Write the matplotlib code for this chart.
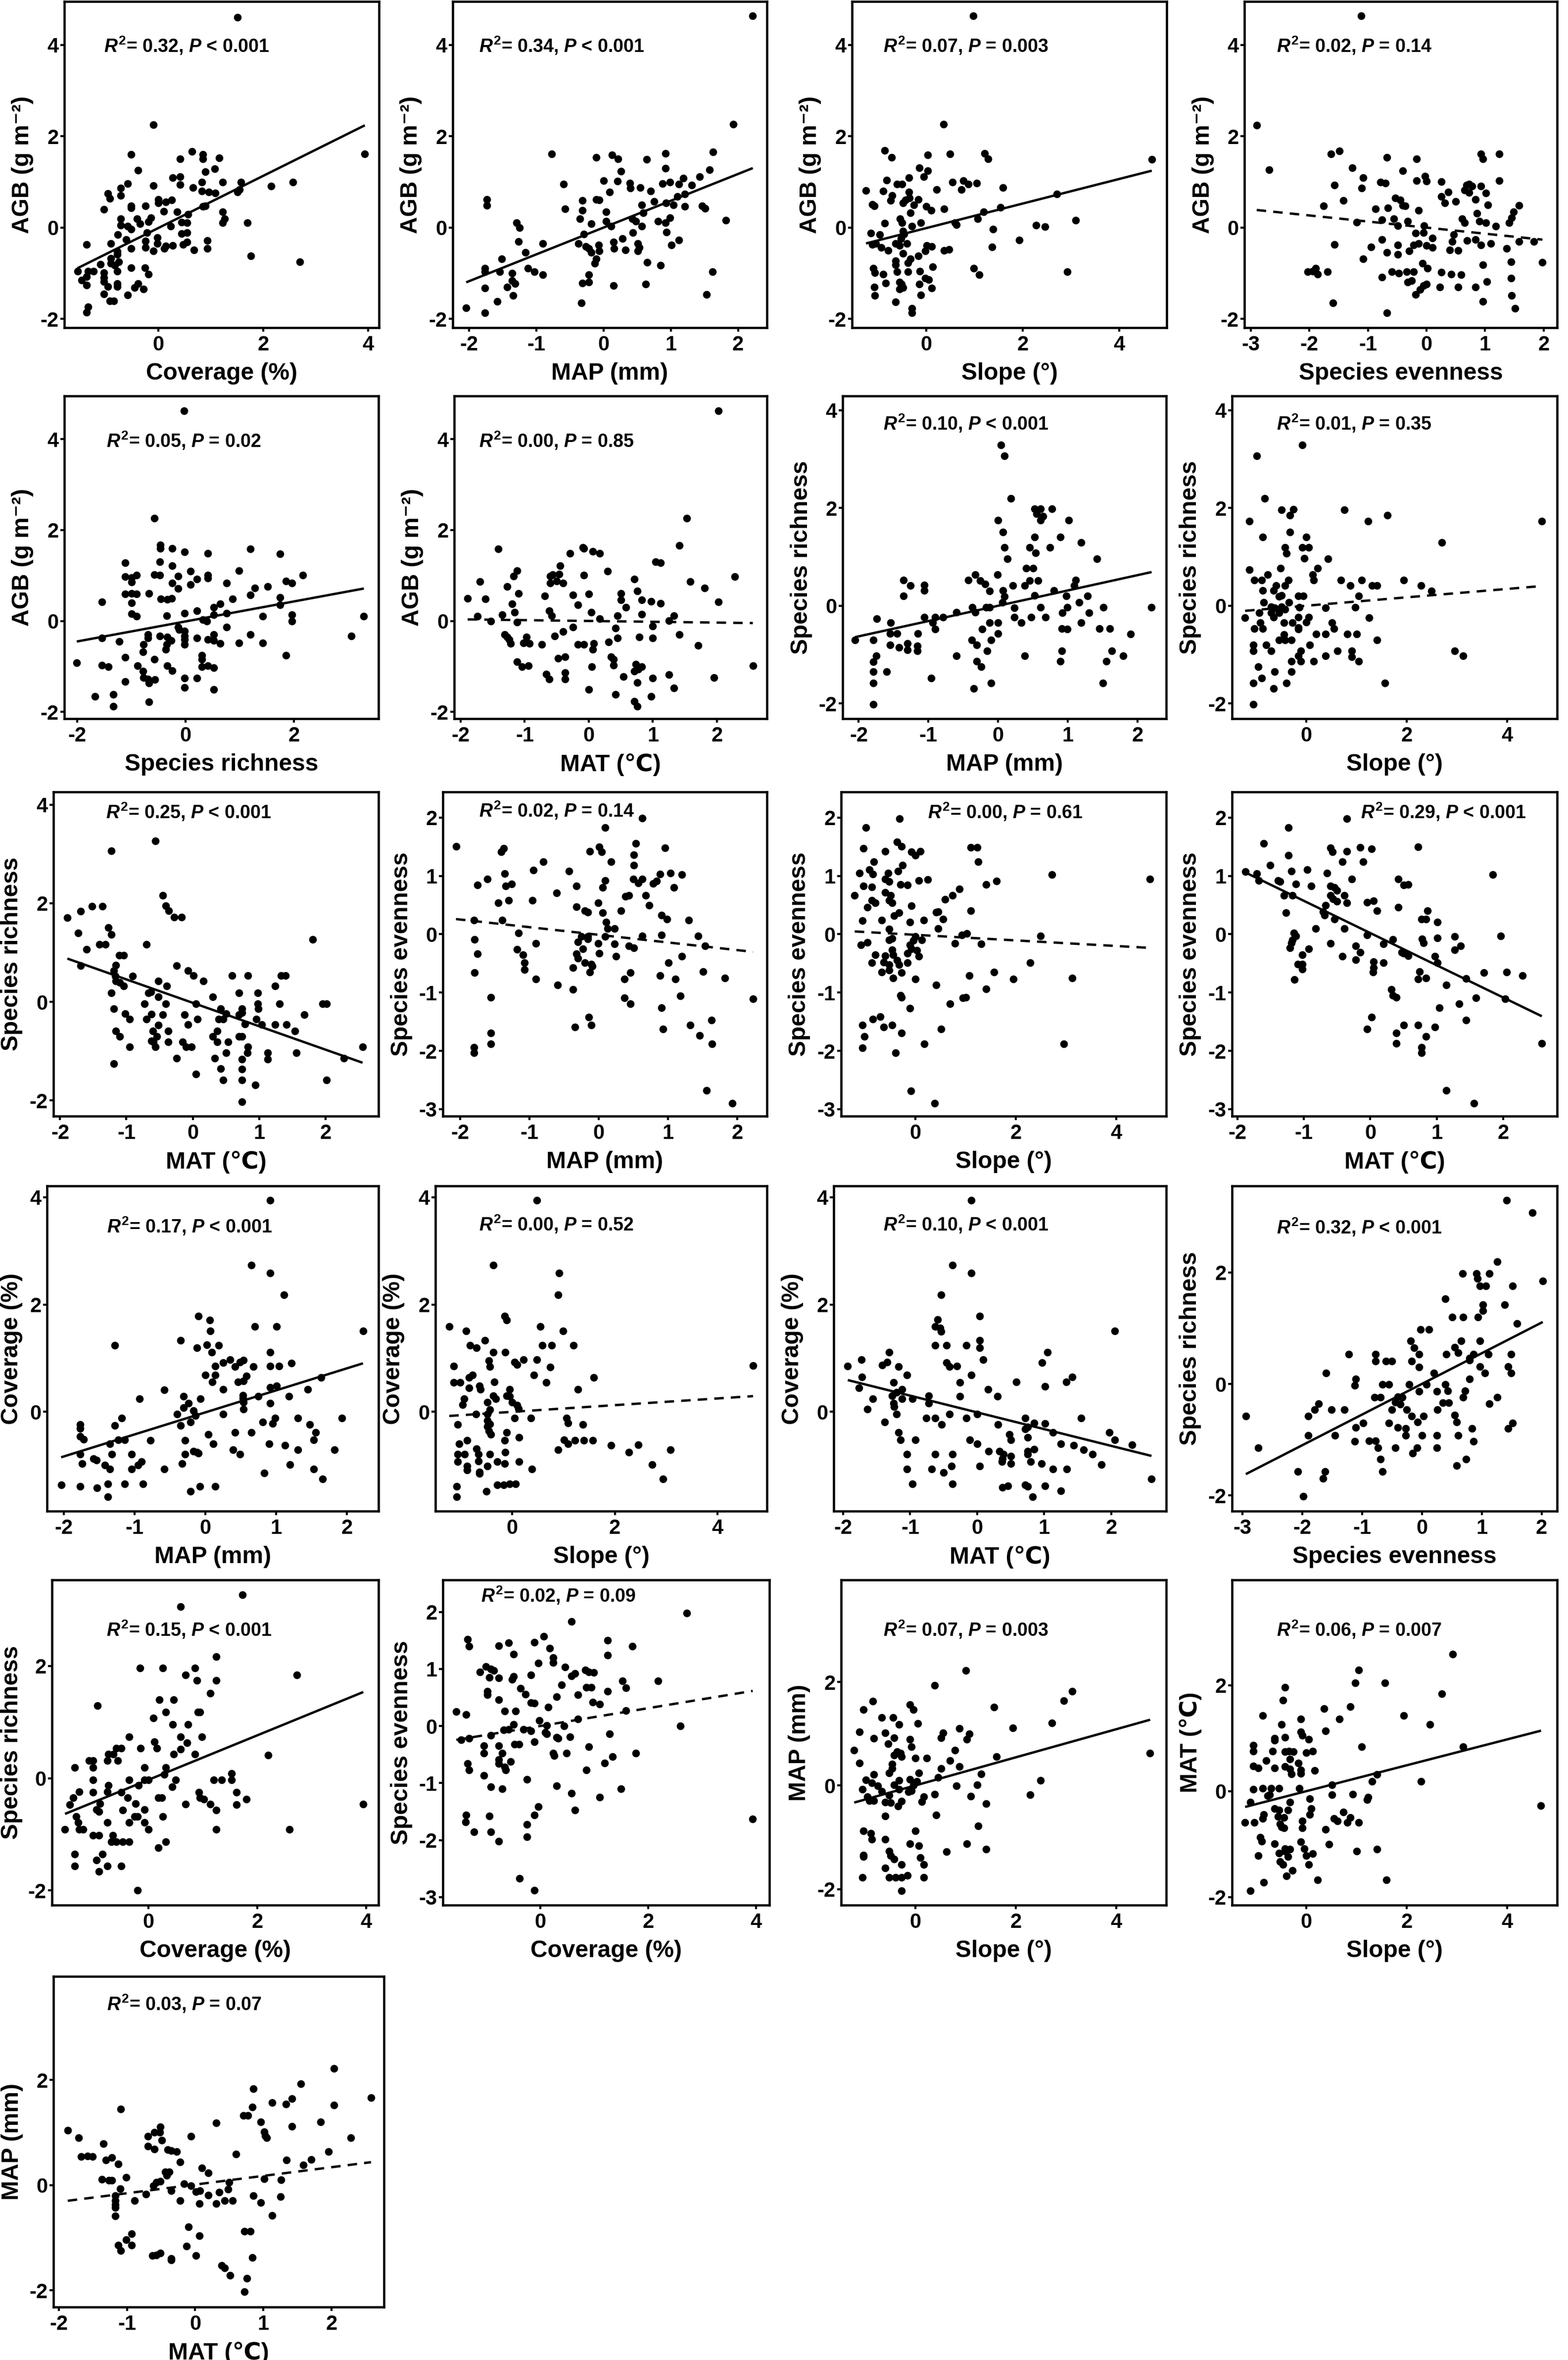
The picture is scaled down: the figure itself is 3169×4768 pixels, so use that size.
import matplotlib
matplotlib.use('Agg')
import matplotlib.pyplot as plt

plt.rcParams['axes.unicode_minus'] = False
plt.rcParams['mathtext.fontset'] = 'custom'
plt.rcParams['mathtext.rm'] = 'Liberation Sans:bold'
plt.rcParams['mathtext.it'] = 'Liberation Sans:italic:bold'
plt.rcParams['mathtext.bf'] = 'Liberation Sans:bold'

# ---------------- DATA (standardised values) ----------------
agb_vs_coverage = [(1.51,4.60),(-0.09,2.25),(-0.52,1.60),(0.64,1.67),(0.85,1.60),(0.85,1.50),(1.16,1.53),(0.42,1.50),(-0.38,1.26),(1.08,1.29),
 (0.90,1.22),(3.94,1.61),(-0.58,0.96),(-0.71,0.86),(-0.09,0.92),(0.28,1.09),(0.42,1.11),(0.42,0.94),(0.66,0.88),(0.83,0.99),
 (1.23,1.00),(1.58,1.00),(2.15,0.91),(2.57,0.99),(-0.96,0.75),(-0.92,0.64),(-0.71,0.70),(0.83,0.80),(0.96,0.78),(1.09,0.76),
 (1.51,0.78),(1.55,0.83),(-1.04,0.40),(-0.52,0.48),(-0.52,0.43),(-0.24,0.47),(0.00,0.62),(0.00,0.54),(0.14,0.56),(0.26,0.60),
 (0.11,0.36),(0.36,0.34),(0.90,0.48),(0.85,0.46),(1.23,0.35),(1.27,0.19),(1.23,0.11),(1.70,0.11),(-0.71,0.19),(-0.71,0.05),
 (-0.40,0.19),(-0.35,0.08),(-0.14,0.21),(-0.19,0.13),(-0.58,0.03),(-0.52,-0.03),(0.24,0.03),(0.45,0.12),(0.55,0.11),(0.57,0.29),
 (0.45,-0.13),(0.55,-0.11),(-0.21,-0.11),(-0.77,-0.15),(-0.61,-0.26),(-0.02,-0.22),(-0.02,-0.35),(-0.24,-0.29),(-0.24,-0.43),(-0.90,-0.35),
 (-1.37,-0.37),(-0.52,-0.46),(-0.09,-0.51),(0.14,-0.40),(0.28,-0.39),(0.12,-0.46),(0.47,-0.37),(0.55,-0.32),(0.68,-0.49),(0.94,-0.28),
 (0.94,-0.46),(-0.78,-0.52),(-0.78,-0.59),(1.77,-0.62),(2.70,-0.75),(-0.90,-0.67),(-0.75,-0.75),(-0.90,-0.78),(-1.10,-0.80),(-0.83,-0.83),
 (-0.52,-0.88),(-0.25,-0.88),(-1.54,-0.96),(-1.34,-0.96),(-1.23,-0.96),(-1.04,-0.99),(-0.78,-0.96),(-0.19,-1.02),(-1.46,-1.15),(-1.04,-1.10),
 (-1.37,-1.07),(-1.04,-1.18),(-0.78,-1.23),(-1.37,-1.26),(-0.96,-1.29),(-0.78,-1.29),(-0.38,-1.23),(-0.45,-1.31),(-0.28,-1.34),(-1.04,-1.45),
 (-0.58,-1.47),(-0.92,-1.61),(-0.85,-1.61),(-1.34,-1.74),(-1.37,-1.85)]

agb_vs_map = [(2.22,4.64),(1.93,2.26),(-0.77,1.61),(-0.11,1.54),(0.13,1.59),(0.22,1.51),(0.64,1.49),(0.92,1.62),(1.63,1.66),(1.58,1.27),
 (1.43,1.11),(0.26,1.23),(0.92,1.30),(-1.73,0.62),(-1.73,0.49),(-0.59,0.95),(0.00,1.03),(0.21,1.02),(0.39,0.97),(0.40,0.86),
 (0.55,0.88),(0.70,0.80),(0.09,0.78),(0.88,0.96),(0.99,1.00),(1.12,0.95),(1.19,1.08),(1.31,0.93),(1.21,0.73),(1.10,0.68),
 (-0.31,0.59),(-0.11,0.62),(-0.06,0.61),(-0.57,0.41),(-0.31,0.38),(0.04,0.35),(0.57,0.50),(0.75,0.57),(0.93,0.54),(1.04,0.50),
 (1.21,0.46),(1.47,0.48),(1.51,0.42),(-0.35,0.19),(-0.18,0.08),(0.04,0.14),(0.11,0.03),(0.43,0.19),(0.48,0.14),(0.57,0.03),
 (0.59,0.32),(0.81,0.14),(0.92,0.11),(0.99,0.22),(1.82,0.16),(-1.29,0.11),(-1.25,0.00),(-0.29,-0.14),(0.44,-0.11),(0.94,-0.10),
 (0.28,-0.24),(-1.26,-0.30),(-0.90,-0.35),(-0.37,-0.35),(-0.26,-0.41),(-0.07,-0.38),(0.15,-0.32),(0.51,-0.35),(0.53,-0.43),(1.01,-0.38),
 (1.12,-0.27),(-0.22,-0.46),(-0.18,-0.54),(-0.06,-0.51),(0.16,-0.46),(0.33,-0.49),(0.51,-0.51),(-1.16,-0.54),(-0.11,-0.68),(-0.13,-0.78),
 (-1.51,-0.68),(0.65,-0.76),(0.85,-0.82),(-1.76,-0.89),(-1.76,-0.97),(-1.54,-0.97),(-1.36,-1.00),(-1.12,-0.89),(-1.03,-0.97),(-0.90,-1.03),
 (-0.22,-1.03),(1.62,-0.97),(-1.36,-1.16),(-1.31,-1.23),(-0.31,-1.22),(-0.22,-1.19),(0.15,-1.27),(0.63,-1.24),(-1.43,-1.30),(-1.76,-1.32),
 (-1.34,-1.49),(1.53,-1.46),(-1.58,-1.62),(-0.33,-1.65),(-2.04,-1.76),(-1.76,-1.86)]

agb_vs_slope = [(0.97,4.64),(0.36,2.26),(-0.86,1.69),(-0.72,1.54),(0.03,1.59),(0.49,1.61),(1.21,1.62),(1.28,1.51),(4.67,1.49),(-0.15,1.31),
 (0.03,1.24),(-0.05,1.11),(-0.36,1.09),(-0.50,0.95),(-0.61,0.95),(-0.82,1.04),(0.54,1.00),(0.77,1.03),(0.87,0.95),(1.04,0.97),
 (0.73,0.83),(-1.25,0.81),(-0.89,0.80),(0.21,0.83),(1.59,0.88),(-0.36,0.78),(-0.71,0.70),(2.70,0.73),(-0.74,0.59),(-0.43,0.61),
 (-0.35,0.65),(-0.17,0.62),(-0.48,0.54),(-0.26,0.50),(-1.12,0.51),(-1.08,0.48),(0.00,0.46),(0.10,0.38),(0.37,0.41),(1.54,0.44),
 (1.19,0.35),(-0.33,0.32),(1.06,0.19),(-0.55,0.19),(-0.50,0.11),(-0.86,0.10),(-0.12,0.11),(0.59,0.11),(0.62,0.06),(-0.30,0.03),
 (3.09,0.16),(2.27,0.05),(2.46,0.02),(1.38,-0.03),(-1.15,-0.12),(-0.97,-0.15),(-0.48,-0.08),(-0.46,-0.14),(-0.53,-0.24),(1.93,-0.27),
 (-1.12,-0.37),(-1.05,-0.35),(-0.94,-0.43),(-0.79,-0.50),(-0.64,-0.35),(-0.56,-0.39),(-0.40,-0.35),(0.01,-0.39),(0.11,-0.41),(-0.02,-0.51),
 (0.37,-0.50),(0.47,-0.48),(1.36,-0.42),(-0.48,-0.57),(-0.33,-0.68),(-0.17,-0.62),(-0.64,-0.73),(-0.64,-0.81),(-0.38,-0.77),(0.13,-0.86),
 (-1.10,-0.89),(-1.07,-0.99),(-0.89,-1.02),(-0.61,-0.97),(-0.38,-0.97),(-0.14,-0.95),(0.98,-0.89),(1.09,-1.03),(2.92,-0.97),(-0.02,-1.11),
 (0.05,-1.14),(-0.84,-1.22),(-0.56,-1.19),(-0.51,-1.24),(-0.48,-1.31),(-0.15,-1.24),(0.11,-1.32),(-0.56,-1.35),(-1.08,-1.30),(-0.12,-1.47),
 (-1.07,-1.49),(-0.64,-1.63),(-0.30,-1.77),(-0.30,-1.86)]

agb_vs_evenness = [(-1.12,4.64),(-2.90,2.24),(-2.69,1.27),(-1.63,1.61),(-1.49,1.68),(-1.27,1.31),(-0.68,1.54),(-0.17,1.51),(0.93,1.61),(0.96,1.51),
 (1.24,1.61),(-0.41,1.24),(-1.08,1.09),(-0.03,1.12),(0.00,1.02),(-0.17,1.03),(-1.57,0.93),(-1.11,0.86),(-0.79,1.00),(-0.70,0.97),
 (0.25,1.01),(1.24,1.03),(0.37,0.78),(0.68,0.93),(0.73,0.95),(0.78,0.91),(0.93,0.91),(0.65,0.82),(0.73,0.77),(1.01,0.76),
 (0.25,0.68),(0.31,0.54),(0.50,0.57),(-0.53,0.65),(-0.45,0.61),(-0.41,0.49),(-0.36,0.48),(0.84,0.62),(1.05,0.50),(1.58,0.49),
 (-1.42,0.59),(-1.76,0.48),(-0.87,0.41),(-0.66,0.43),(-0.14,0.38),(0.86,0.31),(1.49,0.35),(1.45,0.21),(-1.19,0.12),(-0.76,0.17),
 (-0.56,0.19),(-0.49,0.04),(-0.32,0.14),(-0.04,0.04),(0.61,0.19),(0.65,0.11),(0.90,0.14),(1.01,0.11),(1.18,0.03),(1.41,0.11),
 (-0.19,-0.12),(-0.05,-0.11),(0.46,-0.15),(0.10,-0.23),(0.69,-0.28),(-0.76,-0.26),(0.44,-0.30),(0.84,-0.26),(-1.57,-0.37),(-0.95,-0.42),
 (-0.49,-0.38),(-0.22,-0.38),(-0.14,-0.35),(0.00,-0.39),(0.10,-0.43),(0.40,-0.49),(0.54,-0.50),(0.93,-0.38),(1.10,-0.35),(1.37,-0.46),
 (1.58,-0.30),(1.83,-0.30),(-0.68,-0.54),(-0.49,-0.59),(-0.30,-0.51),(-1.08,-0.68),(-0.07,-0.78),(0.02,-0.89),(0.96,-0.81),(1.44,-0.75),
 (1.98,-0.76),(-2.03,-0.97),(-1.94,-0.96),(-1.89,-0.89),(-1.86,-1.02),(-1.69,-0.97),(-0.59,-0.97),(-0.47,-1.00),(-0.34,-0.97),(-0.22,-0.97),
 (0.25,-0.98),(0.42,-1.02),(0.59,-1.03),(-0.76,-1.09),(-0.32,-1.19),(-0.25,-1.16),(1.03,-1.18),(1.44,-1.11),(-0.05,-1.27),(0.00,-1.24),
 (0.23,-1.30),(0.54,-1.30),(0.84,-1.30),(-0.19,-1.46),(-0.11,-1.36),(1.45,-1.49),(-1.60,-1.65),(0.96,-1.62),(1.51,-1.77),(-0.68,-1.86)]

agb_vs_richness = [(-0.03,4.62),(-0.58,2.26),(-0.47,1.67),(-0.47,1.60),(-0.25,1.60),(-0.02,1.52),(0.41,1.49),(1.19,1.59),(1.74,1.48),(-1.12,1.28),
 (-0.48,1.30),(-0.25,1.22),(0.09,1.09),(0.98,1.11),(-1.12,0.98),(-1.00,0.95),(-0.91,1.01),(-0.58,1.02),(-0.48,1.01),(-0.14,0.99),
 (0.21,0.92),(0.41,1.01),(0.41,0.94),(2.16,1.01),(-1.00,0.86),(0.76,0.83),(-0.25,0.83),(0.09,0.80),(-0.14,0.71),(1.51,0.76),
 (1.28,0.73),(1.85,0.88),(1.96,0.83),(-1.12,0.59),(-1.00,0.61),(-0.91,0.59),(-0.68,0.61),(1.19,0.57),(1.74,0.52),(-0.46,0.49),
 (-0.34,0.47),(-0.26,0.50),(0.87,0.49),(-1.55,0.42),(-1.00,0.40),(0.64,0.38),(1.74,0.35),(0.52,0.30),(-1.00,0.16),(-0.91,0.10),
 (-0.35,0.12),(-0.02,0.17),(0.21,0.22),(0.52,0.14),(0.76,0.17),(1.42,0.10),(1.96,0.14),(1.96,0.00),(3.29,0.10),(0.32,0.03),
 (0.39,-0.01),(-0.14,-0.14),(-0.12,-0.19),(-0.02,-0.22),(0.76,-0.14),(-0.70,-0.30),(-0.48,-0.33),(-0.34,-0.35),(-0.27,-0.43),(-0.02,-0.33),
 (-0.02,-0.41),(0.21,-0.38),(0.41,-0.41),(0.52,-0.30),(0.52,-0.43),(0.64,-0.49),(1.19,-0.30),(-1.55,-0.38),(-1.23,-0.45),(-0.70,-0.38),
 (-0.35,-0.52),(-0.02,-0.52),(0.98,-0.48),(1.42,-0.48),(3.06,-0.33),(-0.78,-0.52),(-0.37,-0.63),(-0.79,-0.68),(0.30,-0.76),(0.30,-0.84),
 (1.85,-0.76),(-1.12,-0.80),(-0.58,-0.84),(-2.01,-0.92),(-1.55,-0.97),(-1.43,-1.01),(-0.89,-0.99),(-0.34,-0.98),(-0.25,-1.09),(0.30,-1.01),
 (0.41,-0.99),(0.52,-1.03),(-0.79,-1.11),(-0.78,-1.25),(-0.70,-1.28),(-0.57,-1.29),(-0.02,-1.26),(0.21,-1.26),(-1.12,-1.33),(-0.68,-1.37),
 (-0.02,-1.46),(0.52,-1.51),(-1.67,-1.66),(-1.34,-1.62),(-1.34,-1.88),(-0.68,-1.78)]

agb_vs_mat = [(2.02,4.62),(1.53,2.26),(-1.41,1.59),(-0.09,1.62),(-0.08,1.60),(0.06,1.53),(0.17,1.49),(-0.29,1.49),(1.41,1.66),(1.04,1.30),
 (1.12,1.28),(-0.45,1.22),(-1.12,1.11),(0.29,1.10),(-1.17,0.99),(-0.56,1.02),(-0.60,0.99),(-0.46,1.03),(-0.08,1.01),(2.28,0.97),
 (-1.70,0.87),(0.71,0.92),(1.58,0.87),(-0.60,0.83),(-0.50,0.88),(-0.40,0.83),(-1.27,0.76),(1.81,0.72),(0.76,0.66),(-1.10,0.61),
 (-0.69,0.55),(-0.25,0.57),(0.00,0.59),(0.50,0.61),(-1.89,0.50),(-1.61,0.49),(0.50,0.46),(0.83,0.46),(0.97,0.43),(1.12,0.39),
 (2.02,0.42),(-1.20,0.38),(-0.17,0.35),(-0.62,0.22),(0.04,0.19),(0.58,0.30),(-1.16,0.19),(-1.35,0.14),(-1.74,0.10),(-0.58,0.11),
 (0.45,0.12),(0.83,0.15),(1.33,0.12),(-1.53,0.00),(-1.12,-0.03),(0.17,0.05),(1.25,0.01),(1.00,-0.11),(-0.25,-0.14),(0.42,-0.16),
 (-0.40,-0.23),(1.41,-0.30),(-1.31,-0.30),(-1.27,-0.35),(-1.24,-0.41),(-1.22,-0.49),(-0.97,-0.35),(-0.93,-0.49),(-1.02,-0.48),(-0.73,-0.52),
 (-0.53,-0.33),(-0.17,-0.52),(-0.08,-0.52),(0.08,-0.49),(0.06,-0.63),(0.31,-0.46),(0.45,-0.38),(0.79,-0.35),(1.00,-0.38),(1.71,-0.54),
 (-0.37,-0.79),(-0.48,-0.82),(0.35,-0.79),(0.39,-0.84),(0.39,-0.97),(-1.12,-0.90),(-1.04,-1.01),(-0.94,-0.99),(0.05,-1.01),(0.73,-0.95),
 (0.83,-1.01),(0.77,-1.06),(0.71,-1.10),(2.56,-0.99),(-0.66,-1.17),(-0.62,-1.28),(-0.37,-1.14),(-0.37,-1.28),(0.54,-1.22),(0.76,-1.36),
 (1.00,-1.26),(1.25,-1.18),(1.95,-1.25),(0.00,-1.51),(1.33,-1.47),(0.42,-1.62),(0.97,-1.66),(0.71,-1.77),(0.76,-1.88)]

richness_vs_map = [(0.04,3.29),(0.09,3.07),(0.18,2.19),(0.52,1.98),(0.61,1.98),(0.77,1.98),(0.55,1.88),(0.64,1.83),(0.61,1.75),(0.00,1.75),
 (1.01,1.75),(0.07,1.51),(0.52,1.41),(0.89,1.41),(1.19,1.29),(0.09,1.19),(0.45,1.19),(0.74,1.19),(0.54,1.08),(0.13,0.96),
 (1.42,0.96),(0.40,0.77),(0.50,0.77),(-0.33,0.64),(-0.01,0.64),(-1.36,0.52),(-0.43,0.52),(-0.26,0.51),(0.45,0.51),(0.57,0.51),
 (1.11,0.52),(-1.26,0.41),(-1.06,0.42),(-0.19,0.44),(0.21,0.41),(0.38,0.41),(1.09,0.41),(-1.06,0.31),(-0.12,0.30),(0.07,0.31),
 (0.80,0.31),(-1.36,0.20),(0.52,0.21),(0.98,0.20),(1.28,0.20),(0.09,0.19),(0.06,0.07),(1.16,0.07),(-0.37,-0.03),(-0.17,-0.03),
 (-0.12,-0.03),(0.23,-0.04),(0.61,-0.03),(0.99,-0.03),(1.51,-0.03),(2.20,-0.03),(-0.60,-0.13),(-0.33,-0.13),(0.92,-0.14),(1.30,-0.14),
 (-1.06,-0.23),(-0.90,-0.23),(-0.79,-0.23),(-1.74,-0.27),(0.23,-0.23),(0.47,-0.23),(0.68,-0.23),(0.33,-0.35),(-0.12,-0.35),(0.00,-0.35),
 (1.19,-0.35),(-0.94,-0.35),(-1.54,-0.35),(-0.90,-0.48),(-0.23,-0.48),(0.91,-0.47),(0.99,-0.48),(1.45,-0.47),(1.60,-0.47),(-1.55,-0.57),
 (-1.45,-0.57),(-1.15,-0.57),(0.00,-0.57),(1.90,-0.58),(-2.05,-0.70),(-1.79,-0.70),(-0.10,-0.70),(-0.38,-0.70),(-1.55,-0.80),(-1.30,-0.77),
 (-1.42,-0.85),(-1.30,-0.90),(-1.16,-0.82),(-1.16,-0.92),(-0.31,-0.80),(-0.16,-0.92),(0.91,-0.92),(1.63,-0.92),(-1.75,-1.02),(-0.60,-1.02),
 (0.38,-1.02),(1.79,-1.02),(-1.79,-1.15),(-0.31,-1.14),(-0.24,-1.25),(0.89,-1.14),(1.55,-1.14),(-1.79,-1.35),(-1.60,-1.35),(-0.96,-1.48),
 (-1.79,-1.58),(-0.10,-1.58),(1.50,-1.58),(-0.35,-1.69),(-1.79,-2.02)]

richness_vs_slope = [(-0.07,3.29),(-0.98,3.07),(-0.82,2.19),(-0.49,1.96),(-0.25,1.97),(-0.32,1.85),(0.76,1.96),(1.62,1.85),(-1.13,1.73),(1.23,1.73),
 (4.69,1.73),(-0.32,1.51),(0.00,1.41),(-0.86,1.41),(2.70,1.29),(-0.42,1.19),(-0.07,1.19),(0.05,1.19),(-0.39,1.07),(-0.03,0.97),
 (0.44,0.96),(0.23,0.77),(-1.13,0.74),(-0.51,0.77),(0.13,0.64),(-0.76,0.64),(-1.03,0.52),(-0.88,0.52),(-0.35,0.52),(0.15,0.52),
 (0.69,0.52),(1.11,0.52),(1.94,0.52),(-0.59,0.41),(-0.42,0.41),(0.88,0.41),(1.31,0.41),(1.41,0.41),(2.29,0.41),(-0.86,0.31),
 (-0.64,0.31),(-0.49,0.21),(-0.15,0.20),(-0.05,0.20),(1.05,0.20),(2.49,0.30),(-0.54,0.19),(-0.84,0.07),(-0.34,0.07),(-0.69,-0.02),
 (-0.62,-0.04),(-0.49,-0.02),(-0.42,-0.07),(-0.13,-0.03),(0.39,-0.04),(0.98,-0.03),(-0.93,-0.14),(-0.69,-0.14),(-0.54,-0.14),(-0.64,-0.23),
 (-0.15,-0.23),(0.05,-0.23),(-1.21,-0.25),(1.25,-0.25),(-0.44,-0.35),(-0.27,-0.35),(-0.91,-0.35),(0.52,-0.35),(-0.15,-0.45),(0.00,-0.34),
 (-1.03,-0.47),(-0.86,-0.47),(-0.15,-0.48),(0.56,-0.47),(-0.44,-0.59),(-0.42,-0.70),(0.20,-0.58),(0.39,-0.58),(0.82,-0.58),(1.01,-0.58),
 (-0.29,-0.70),(-0.54,-0.70),(0.07,-0.80),(1.41,-0.70),(-1.05,-0.80),(-0.79,-0.80),(-1.05,-0.92),(-0.69,-0.92),(-0.10,-0.92),(0.62,-0.92),
 (0.91,-0.92),(2.95,-0.92),(3.12,-1.02),(-0.15,-1.02),(0.39,-1.02),(0.91,-1.04),(-0.29,-1.14),(-0.10,-1.14),(0.15,-1.14),(1.05,-1.14),
 (-0.95,-1.25),(-0.62,-1.35),(-0.29,-1.35),(-0.88,-1.48),(-1.05,-1.58),(-0.39,-1.58),(1.57,-1.58),(-0.64,-1.69),(-1.05,-2.02)]

richness_vs_mat = [(-0.56,3.27),(-1.23,3.06),(-0.45,2.16),(-1.52,1.94),(-1.36,1.94),(-0.41,1.95),(-0.36,1.85),(-1.69,1.84),(-1.89,1.71),(-0.28,1.72),
 (-0.17,1.72),(-1.27,1.51),(-1.23,1.37),(-1.73,1.40),(-1.41,1.17),(-1.32,1.17),(-0.70,1.17),(1.81,1.27),(-1.60,1.07),(-1.11,0.94),
 (-1.04,0.94),(-1.16,0.74),(-1.69,0.73),(-0.24,0.73),(-1.19,0.63),(-0.07,0.63),(0.01,0.53),(0.59,0.53),(0.83,0.53),(1.33,0.53),
 (1.40,0.53),(-1.17,0.52),(-0.91,0.52),(-1.16,0.42),(-1.10,0.39),(-0.52,0.42),(0.16,0.42),(-1.04,0.32),(-0.39,0.32),(1.24,0.32),
 (-0.63,0.20),(-1.23,0.18),(-0.67,0.18),(0.70,0.18),(0.98,0.18),(-0.52,0.10),(0.30,0.10),(-0.73,-0.04),(-0.41,-0.04),(0.05,-0.04),
 (0.98,-0.04),(1.31,-0.04),(1.96,-0.04),(2.02,-0.04),(-1.19,-0.14),(0.42,-0.14),(0.74,-0.14),(0.99,-0.14),(0.74,-0.22),(-1.02,-0.24),
 (-0.62,-0.25),(-0.45,-0.26),(-0.12,-0.26),(0.50,-0.24),(0.70,-0.26),(1.68,-0.26),(-0.95,-0.35),(-0.70,-0.35),(0.07,-0.35),(0.39,-0.35),
 (0.46,-0.35),(0.96,-0.35),(-0.07,-0.46),(0.79,-0.45),(1.04,-0.46),(1.24,-0.46),(1.41,-0.46),(-0.52,-0.47),(-0.60,-0.59),(-0.37,-0.59),
 (0.37,-0.59),(1.54,-0.59),(-1.16,-0.59),(-1.10,-0.70),(-0.54,-0.70),(0.30,-0.70),(0.70,-0.70),(0.74,-0.70),(-0.62,-0.79),(-0.59,-0.81),
 (-0.37,-0.81),(-0.15,-0.81),(0.37,-0.81),(0.53,-0.81),(-0.10,-0.91),(-0.02,-0.91),(-0.95,-0.91),(-0.56,-0.91),(0.83,-0.91),(2.56,-0.91),
 (0.82,-1.03),(0.50,-1.03),(1.13,-1.03),(1.56,-1.03),(1.13,-1.16),(-0.24,-1.14),(0.33,-1.14),(0.74,-1.16),(2.28,-1.14),(-1.19,-1.26),
 (0.42,-1.36),(0.74,-1.37),(0.05,-1.47),(0.46,-1.59),(0.74,-1.59),(2.02,-1.59),(0.94,-1.69),(0.74,-2.03)]

evenness_vs_map = [(0.63,1.99),(0.09,1.83),(-2.06,1.51),(-1.37,1.47),(-1.41,1.41),(0.01,1.50),(0.04,1.41),(-0.13,1.42),(0.54,1.56),(0.96,1.48),
 (0.51,1.36),(-0.80,1.24),(0.18,1.24),(0.51,1.18),(-0.94,1.10),(-0.43,1.08),(1.04,1.05),(1.20,1.02),(-1.36,1.04),(0.89,1.03),
 (-1.61,0.95),(0.50,0.95),(0.63,0.95),(0.09,0.92),(0.57,0.88),(0.84,0.91),(0.79,0.87),(-1.75,0.84),(-1.34,0.83),(-1.26,0.86),
 (-0.32,0.83),(0.06,0.80),(1.09,0.80),(-0.61,0.71),(0.44,0.67),(0.68,0.67),(0.39,0.65),(-0.96,0.58),(-1.30,0.58),(-1.45,0.54),
 (-0.01,0.54),(0.73,0.50),(-0.32,0.47),(0.32,0.40),(-0.20,0.40),(-0.16,0.38),(0.06,0.37),(0.91,0.33),(0.99,0.26),(1.30,0.24),
 (-1.80,0.24),(-1.39,0.24),(0.11,0.21),(0.13,0.10),(0.23,0.10),(-1.16,0.02),(0.91,-0.01),(0.63,-0.03),(1.44,-0.03),(-0.25,-0.04),
 (-0.16,-0.04),(0.09,-0.04),(-1.79,-0.09),(-0.16,-0.08),(-0.30,-0.13),(-0.91,-0.16),(-0.01,-0.16),(0.23,-0.17),(0.44,-0.20),(0.51,-0.23),
 (1.54,-0.20),(-0.23,-0.25),(-1.18,-0.26),(-1.75,-0.34),(-1.09,-0.35),(-0.32,-0.34),(0.01,-0.33),(-0.30,-0.41),(0.25,-0.38),(1.20,-0.38),
 (-1.07,-0.49),(1.01,-0.49),(-0.20,-0.49),(-0.11,-0.51),(-1.07,-0.61),(-0.37,-0.57),(-0.09,-0.55),(-0.13,-0.65),(-1.79,-0.66),(0.46,-0.66),
 (1.51,-0.64),(0.89,-0.71),(1.11,-0.77),(1.82,-0.75),(-0.91,-0.77),(0.37,-0.77),(-0.59,-0.87),(-0.37,-0.95),(-1.56,-1.08),(0.37,-1.09),
 (1.18,-1.06),(0.46,-1.19),(2.23,-1.11),(0.91,-1.26),(-0.14,-1.42),(-0.11,-1.56),(-0.34,-1.59),(1.32,-1.56),(1.63,-1.47),(0.93,-1.63),
 (-1.56,-1.69),(1.46,-1.74),(-1.56,-1.88),(1.64,-1.88),(-1.80,-1.94),(-1.80,-2.03),(1.56,-2.68),(1.93,-2.90)]

evenness_vs_slope = [(-0.31,1.98),(-0.98,1.83),(-1.03,1.47),(-0.36,1.58),(-0.27,1.51),(-0.59,1.42),(-0.07,1.41),(0.00,1.35),(0.10,1.42),(1.11,1.49),
 (1.23,1.49),(1.25,1.24),(-0.82,1.24),(-0.25,1.18),(-0.91,1.11),(-0.34,1.08),(-1.11,1.05),(-0.84,1.03),(-0.54,1.05),(-0.59,0.95),
 (-0.52,0.90),(0.07,0.92),(0.25,0.94),(2.72,1.02),(4.67,0.95),(1.62,0.91),(1.41,0.85),(-1.03,0.83),(-0.86,0.81),(-0.29,0.85),
 (-0.15,0.84),(0.88,0.78),(-0.59,0.72),(-0.49,0.67),(-1.20,0.67),(0.74,0.67),(0.59,0.60),(-0.86,0.58),(-0.79,0.54),(-0.52,0.58),
 (-0.46,0.54),(-0.07,0.49),(-0.95,0.46),(0.46,0.39),(0.42,0.38),(1.11,0.40),(-0.32,0.37),(-0.42,0.32),(-0.66,0.24),(-1.05,0.23),
 (-0.10,0.21),(0.17,0.24),(0.56,0.26),(0.46,0.10),(-0.52,0.09),(0.93,-0.01),(1.03,0.01),(2.49,-0.03),(-0.46,-0.07),(-0.52,-0.10),
 (0.00,-0.04),(-0.03,-0.11),(0.13,-0.10),(-1.08,-0.18),(-0.95,-0.14),(0.79,-0.16),(1.31,-0.17),(-0.10,-0.18),(-0.07,-0.25),(0.03,-0.28),
 (-0.46,-0.27),(-0.79,-0.35),(-0.59,-0.37),(-0.44,-0.35),(0.07,-0.38),(-0.15,-0.33),(-0.36,-0.45),(-0.86,-0.49),(-0.62,-0.48),(-0.52,-0.52),
 (-0.32,-0.52),(-0.15,-0.49),(2.29,-0.49),(-0.52,-0.62),(-0.66,-0.65),(-0.27,-0.66),(-0.44,-0.75),(1.57,-0.65),(0.00,-0.77),(1.08,-0.71),
 (1.95,-0.77),(3.12,-0.75),(0.42,-0.87),(1.41,-0.94),(-0.29,-1.05),(-0.27,-1.08),(0.95,-1.09),(1.01,-1.08),(0.69,-1.19),(-0.10,-1.27),
 (-0.69,-1.41),(-0.84,-1.46),(-1.05,-1.56),(-0.46,-1.56),(-0.62,-1.59),(0.52,-1.63),(-0.27,-1.69),(-1.01,-1.75),(0.18,-1.88),(2.95,-1.88),
 (-1.05,-1.95),(-0.39,-2.03),(-0.08,-2.69),(0.39,-2.90)]

evenness_vs_mat = [(-0.35,1.98),(-1.23,1.83),(-1.60,1.56),(-0.60,1.48),(-0.15,1.49),(0.02,1.46),(0.72,1.50),(-0.57,1.41),(-0.35,1.42),(-1.23,1.35),
 (-0.42,1.24),(-0.11,1.24),(-1.51,1.18),(-1.19,1.08),(-0.95,1.11),(-1.88,1.07),(-1.71,1.04),(-0.65,1.05),(1.84,1.02),(-1.68,0.92),
 (-1.39,0.92),(-0.28,0.95),(0.42,0.95),(-1.36,0.90),(-1.12,0.86),(0.57,0.85),(0.50,0.84),(-0.89,0.83),(-0.60,0.83),(-0.54,0.80),
 (-0.50,0.75),(-1.30,0.67),(-1.17,0.67),(-0.60,0.67),(-0.39,0.67),(-0.56,0.61),(-0.50,0.56),(-0.05,0.55),(0.05,0.57),(-0.35,0.54),
 (-0.67,0.50),(0.42,0.46),(0.10,0.40),(0.86,0.40),(-0.71,0.39),(-1.27,0.37),(-0.69,0.33),(-0.54,0.26),(0.77,0.26),(0.84,0.26),
 (1.01,0.21),(-0.82,0.10),(-0.39,0.10),(-1.15,0.02),(-1.12,-0.03),(-0.05,-0.01),(0.34,-0.09),(0.78,-0.08),(1.01,-0.06),(1.27,-0.04),
 (1.96,-0.03),(-1.17,-0.10),(-1.19,-0.15),(-1.21,-0.23),(0.80,-0.15),(-0.60,-0.16),(0.20,-0.17),(-0.22,-0.20),(1.36,-0.20),(-0.93,-0.25),
 (1.27,-0.27),(-0.15,-0.31),(0.47,-0.31),(0.50,-0.33),(0.57,-0.37),(-1.02,-0.35),(-0.42,-0.38),(0.97,-0.38),(-0.22,-0.44),(-1.09,-0.51),
 (-1.02,-0.51),(0.05,-0.47),(0.20,-0.49),(1.01,-0.49),(-1.02,-0.60),(0.05,-0.57),(0.04,-0.65),(0.74,-0.64),(1.71,-0.66),(2.05,-0.65),
 (2.29,-0.71),(-1.14,-0.78),(0.72,-0.77),(0.84,-0.75),(1.44,-0.76),(1.14,-0.87),(0.32,-0.95),(0.34,-1.05),(0.39,-1.08),(1.59,-1.09),
 (2.03,-1.11),(1.04,-1.26),(1.34,-1.19),(0.02,-1.42),(1.44,-1.47),(0.50,-1.56),(0.72,-1.56),(0.97,-1.59),(-0.05,-1.63),(0.39,-1.69),
 (0.84,-1.75),(0.39,-1.87),(2.58,-1.87),(0.77,-1.94),(0.77,-2.03),(1.14,-2.68),(1.56,-2.90)]

coverage_vs_map = [(0.92,3.94),(0.65,2.73),(0.92,2.59),(1.11,2.18),(-0.10,1.78),(0.06,1.71),(0.70,1.59),(1.01,1.59),(0.07,1.51),(2.23,1.51),
 (-0.35,1.33),(-1.28,1.24),(-0.12,1.19),(0.02,1.25),(0.19,1.24),(0.09,1.11),(0.92,1.11),(0.25,0.92),(0.35,0.97),(0.42,0.84),
 (0.49,0.93),(0.54,0.96),(0.14,0.85),(0.68,0.84),(0.92,0.85),(1.22,0.91),(1.04,0.85),(0.00,0.69),(0.14,0.69),(0.58,0.67),
 (0.10,0.56),(0.46,0.56),(1.64,0.64),(0.54,0.58),(0.92,0.46),(1.01,0.48),(0.25,0.42),(1.45,0.42),(-0.58,0.41),(0.53,0.31),
 (0.75,0.29),(1.18,0.29),(-0.93,0.24),(-0.31,0.29),(-0.07,0.24),(0.53,0.25),(-0.24,0.16),(0.54,0.18),(0.92,0.16),(-0.31,0.08),
 (0.54,0.05),(-0.40,-0.04),(-0.17,0.02),(-0.14,-0.07),(0.25,-0.04),(-1.18,-0.12),(0.99,-0.12),(1.31,-0.12),(1.93,-0.12),(-0.21,-0.19),
 (0.81,-0.19),(0.95,-0.22),(-0.35,-0.25),(-1.77,-0.24),(-1.77,-0.31),(-1.28,-0.25),(1.48,-0.24),(0.42,-0.38),(0.65,-0.38),(1.56,-0.38),
 (0.04,-0.42),(-1.77,-0.46),(-1.72,-0.51),(-1.23,-0.52),(-1.14,-0.52),(-0.78,-0.53),(-0.29,-0.53),(1.53,-0.52),(-1.35,-0.60),(0.11,-0.60),
 (0.90,-0.60),(1.13,-0.62),(-0.17,-0.73),(-0.12,-0.75),(0.39,-0.71),(1.31,-0.71),(1.83,-0.71),(-1.77,-0.79),(-1.32,-0.79),(-1.04,-0.79),
 (-0.29,-0.79),(-0.10,-0.77),(0.49,-0.79),(-1.58,-0.87),(-1.54,-0.90),(-0.90,-0.93),(-1.74,-0.96),(-1.42,-0.99),(-0.95,-0.99),(-0.33,-0.96),
 (1.20,-0.98),(-1.35,-1.07),(-1.04,-1.07),(-0.58,-1.07),(1.53,-1.07),(0.83,-1.14),(1.66,-1.25),(-2.04,-1.36),(-1.77,-1.39),(-1.53,-1.42),
 (-1.38,-1.34),(-1.14,-1.34),(-0.88,-1.34),(-0.08,-1.39),(0.14,-1.39),(-0.21,-1.48),(-1.38,-1.58)]

coverage_vs_slope = [(0.48,3.94),(-0.36,2.73),(0.92,2.59),(0.90,2.18),(-0.14,1.78),(-0.10,1.71),(-1.22,1.59),(0.55,1.59),(-0.89,1.51),(0.99,1.51),
 (-0.53,1.33),(-0.82,1.24),(-0.69,1.19),(0.59,1.24),(0.77,1.24),(1.20,1.24),(-0.36,1.11),(-0.13,1.11),(0.22,0.97),(0.48,0.97),
 (-0.45,0.95),(0.05,0.93),(0.10,0.88),(-1.13,0.85),(-0.43,0.84),(0.74,0.83),(0.43,0.69),(-0.77,0.69),(-0.84,0.64),(1.59,0.64),
 (-1.13,0.55),(-1.01,0.55),(-0.34,0.56),(0.67,0.55),(-0.84,0.45),(-0.63,0.48),(-0.61,0.42),(-0.05,0.42),(1.28,0.42),(-0.93,0.24),
 (-0.36,0.30),(-0.32,0.24),(-0.10,0.30),(-0.05,0.29),(-0.48,0.18),(0.00,0.18),(-0.96,0.13),(0.10,0.12),(0.13,0.06),(-0.43,0.04),
 (-0.70,-0.04),(-0.48,-0.04),(0.05,-0.12),(0.37,-0.12),(1.06,-0.12),(-0.48,-0.16),(-0.43,-0.23),(1.09,-0.21),(-1.06,-0.24),(-0.48,-0.27),
 (1.38,-0.24),(-0.45,-0.36),(-0.41,-0.42),(-0.10,-0.38),(-0.87,-0.53),(-0.14,-0.53),(0.14,-0.48),(1.01,-0.52),(1.09,-0.60),(1.22,-0.53),
 (1.40,-0.53),(1.57,-0.53),(-1.03,-0.60),(1.93,-0.62),(2.46,-0.61),(-0.69,-0.69),(-0.13,-0.75),(0.90,-0.71),(2.27,-0.75),(3.08,-0.71),
 (-1.06,-0.79),(-0.92,-0.79),(-0.65,-0.79),(-0.43,-0.79),(-1.06,-0.93),(-0.65,-0.92),(-0.29,-0.93),(-0.14,-0.96),(0.14,-0.93),(-0.87,-1.01),
 (-0.48,-1.01),(-0.87,-1.08),(-0.63,-1.12),(-0.63,-1.15),(0.39,-1.07),(2.73,-0.98),(2.94,-1.25),(-0.29,-1.36),(-0.16,-1.36),(-0.05,-1.34),
 (0.07,-1.34),(-1.08,-1.39),(-0.50,-1.48),(-1.08,-1.58),(4.69,0.86)]

coverage_vs_mat = [(-0.09,3.94),(-0.37,2.73),(-0.09,2.59),(-0.54,2.18),(0.04,1.78),(-0.59,1.72),(-0.63,1.59),(-0.55,1.56),(-0.54,1.50),(2.05,1.51),
 (0.04,1.33),(-0.63,1.24),(-0.46,1.24),(-0.16,1.24),(0.04,1.19),(1.05,1.11),(-1.31,1.11),(-1.73,0.97),(0.09,0.97),(-1.34,0.93),
 (0.97,0.92),(-1.42,0.87),(-1.93,0.85),(-0.46,0.92),(-0.41,0.84),(-0.30,0.85),(-1.17,0.84),(-0.09,0.69),(-1.05,0.69),(-1.72,0.65),
 (1.42,0.65),(1.33,0.56),(0.58,0.56),(-1.25,0.55),(-0.26,0.55),(1.01,0.47),(-1.76,0.45),(0.16,0.42),(-1.12,0.42),(-1.20,0.36),
 (-0.26,0.29),(0.30,0.29),(-1.27,0.30),(-0.72,0.30),(-1.56,0.24),(-1.12,0.24),(-0.97,0.24),(-1.25,0.16),(-0.72,0.16),(-1.24,0.10),
 (-1.64,0.05),(-1.20,-0.04),(-0.41,-0.04),(0.00,-0.04),(0.72,-0.12),(-0.76,-0.12),(-0.63,-0.12),(-0.16,-0.12),(1.55,-0.12),(-1.38,-0.19),
 (0.31,-0.24),(0.85,-0.21),(1.01,-0.22),(-0.53,-0.24),(0.75,-0.28),(0.72,-0.32),(-1.17,-0.38),(1.13,-0.38),(0.48,-0.42),(1.97,-0.38),
 (0.75,-0.48),(-1.14,-0.52),(-0.92,-0.52),(0.50,-0.52),(2.05,-0.52),(-0.11,-0.52),(0.00,-0.60),(1.25,-0.60),(1.44,-0.62),(2.31,-0.61),
 (0.85,-0.70),(0.75,-0.73),(0.17,-0.73),(0.33,-0.73),(1.59,-0.71),(-1.05,-0.79),(-0.63,-0.79),(-0.37,-0.79),(0.39,-0.79),(0.75,-0.79),
 (1.72,-0.79),(0.38,-0.87),(0.50,-0.83),(0.37,-0.93),(0.50,-0.96),(0.80,-0.93),(0.96,-0.96),(1.85,-0.98),(-0.38,-1.01),(0.04,-1.01),
 (-1.05,-1.07),(-0.68,-1.07),(1.13,-1.07),(1.34,-1.07),(-0.50,-1.13),(2.60,-1.25),(-0.97,-1.34),(-0.37,-1.34),(0.38,-1.41),(0.46,-1.38),
 (0.72,-1.36),(0.75,-1.39),(1.01,-1.38),(1.25,-1.47),(0.83,-1.58)]

richness_vs_evenness = [(1.42,3.29),(1.85,3.07),(1.26,2.19),(0.68,1.98),(0.91,1.98),(1.13,1.98),(0.93,1.89),(0.97,1.76),(1.07,1.76),(1.52,1.76),
 (2.02,1.85),(0.39,1.53),(1.02,1.42),(1.02,1.31),(1.38,1.42),(0.51,1.20),(0.69,1.20),(0.94,1.20),(1.59,1.08),(-0.02,0.98),
 (0.12,0.98),(-0.19,0.77),(-0.13,0.65),(0.55,0.66),(0.66,0.77),(0.97,0.77),(-1.22,0.53),(-0.77,0.53),(-0.05,0.53),(0.41,0.53),
 (0.86,0.53),(1.11,0.53),(1.49,0.53),(-0.77,0.41),(-0.60,0.41),(-0.50,0.41),(-0.17,0.41),(0.80,0.43),(0.61,0.56),(0.80,0.46),
 (-0.05,0.30),(0.97,0.31),(1.44,0.31),(0.20,0.20),(-1.60,0.20),(1.05,0.20),(1.49,0.20),(-1.10,0.09),(0.80,0.09),(-1.12,-0.03),
 (-0.66,-0.01),(-0.55,-0.01),(-0.21,-0.01),(0.08,-0.01),(0.39,-0.01),(-0.05,-0.13),(0.25,-0.13),(0.43,-0.12),(0.72,-0.12),(-0.79,-0.24),
 (-0.69,-0.24),(-0.40,-0.23),(-0.33,-0.24),(0.69,-0.24),(1.26,-0.24),(-0.44,-0.33),(0.35,-0.34),(0.45,-0.34),(1.13,-0.35),(-0.36,-0.36),
 (-1.72,-0.35),(-1.79,-0.46),(-1.51,-0.46),(-1.29,-0.46),(-0.50,-0.46),(-0.25,-0.46),(0.26,-0.46),(-1.90,-0.58),(-0.17,-0.58),(0.03,-0.58),
 (0.55,-0.56),(-2.94,-0.58),(-0.98,-0.70),(-0.55,-0.70),(-0.07,-0.68),(0.58,-0.68),(1.52,-0.70),(-1.10,-0.78),(-0.40,-0.78),(-0.27,-0.80),
 (1.44,-0.80),(-1.90,-0.92),(-1.45,-0.92),(-0.27,-0.92),(0.00,-0.92),(0.25,-0.92),(0.61,-0.92),(0.84,-0.80),(-1.12,-1.03),(-0.88,-1.02),
 (-0.77,-1.02),(0.86,-1.03),(-2.73,-1.14),(-0.73,-1.14),(-0.44,-1.14),(-0.08,-1.14),(0.25,-1.14),(-0.15,-1.24),(-0.69,-1.35),(0.74,-1.35),
 (0.58,-1.46),(-0.66,-1.57),(-2.07,-1.57),(-1.62,-1.57),(-1.65,-1.69),(-1.98,-2.01)]

richness_vs_coverage = [(1.73,3.27),(0.59,3.05),(1.25,2.16),(-0.15,1.96),(0.27,1.96),(0.86,1.96),(0.68,1.84),(2.73,1.84),(0.89,1.74),(1.25,1.74),
 (1.14,1.51),(-0.93,1.29),(0.20,1.40),(0.47,1.40),(0.32,1.18),(0.91,1.18),(0.95,1.18),(0.09,1.07),(0.45,0.96),(0.73,0.96),
 (-0.35,0.74),(0.59,0.74),(0.98,0.74),(0.71,0.63),(0.11,0.65),(-0.14,0.53),(0.16,0.53),(-0.59,0.53),(-0.50,0.53),(0.59,0.52),
 (-0.73,0.43),(-0.64,0.43),(0.47,0.43),(0.86,0.43),(2.20,0.41),(-1.09,0.31),(-1.02,0.31),(-0.75,0.31),(-0.56,0.31),(-1.35,0.19),
 (-1.02,0.19),(-0.07,0.19),(0.32,0.19),(0.29,0.07),(1.53,0.08),(-1.02,-0.03),(-0.35,-0.03),(-0.07,-0.03),(0.00,-0.03),(0.50,-0.03),
 (1.20,-0.03),(1.35,-0.03),(1.53,-0.03),(-0.73,-0.13),(-0.18,-0.13),(0.44,-0.15),(-0.75,-0.24),(-1.27,-0.24),(-1.02,-0.25),(-0.50,-0.25),
 (0.93,-0.25),(0.95,-0.35),(1.02,-0.37),(1.62,-0.25),(1.80,-0.37),(-1.38,-0.35),(-0.38,-0.35),(0.18,-0.35),(0.25,-0.35),(-0.89,-0.45),
 (-1.44,-0.47),(-0.23,-0.45),(0.68,-0.46),(1.14,-0.46),(1.62,-0.47),(3.95,-0.46),(-0.95,-0.56),(-0.91,-0.59),(-0.47,-0.57),(-0.07,-0.56),
 (1.25,-0.57),(-1.32,-0.68),(-0.25,-0.68),(-0.20,-0.68),(0.27,-0.68),(-1.29,-0.79),(-0.75,-0.79),(-0.35,-0.79),(-0.07,-0.79),(-1.53,-0.91),
 (-1.27,-0.91),(-1.20,-0.91),(0.00,-0.91),(1.25,-0.91),(2.59,-0.91),(-1.02,-1.02),(-0.91,-1.02),(-0.65,-1.02),(-0.68,-1.13),(-0.59,-1.13),
 (-0.47,-1.13),(-0.35,-1.13),(0.32,-1.13),(0.18,-1.24),(-1.35,-1.35),(-0.84,-1.35),(-0.95,-1.46),(-1.35,-1.56),(-0.75,-1.56),(-0.50,-1.56),
 (-0.91,-1.66),(-0.20,-2.00)]

evenness_vs_coverage = [(2.72,1.98),(0.58,1.83),(0.06,1.57),(-0.11,1.47),(-1.35,1.52),(-1.32,1.40),(-0.59,1.46),(-0.77,1.41),(1.25,1.50),(1.71,1.40),
 (0.17,1.36),(-0.50,1.26),(1.25,1.24),(0.24,1.20),(-0.04,1.10),(0.24,1.11),(-1.01,1.04),(-0.92,1.00),(0.46,1.03),(-1.12,0.95),
 (-0.86,0.97),(0.90,0.95),(0.99,0.94),(0.64,0.92),(0.83,0.98),(-0.18,0.89),(0.58,0.88),(-0.95,0.85),(-0.77,0.84),(-0.50,0.87),
 (-0.52,0.82),(1.52,0.79),(2.18,0.79),(0.39,0.72),(0.85,0.68),(0.94,0.68),(1.59,0.67),(-0.37,0.66),(1.25,0.61),(-0.98,0.61),
 (-0.98,0.55),(-0.28,0.56),(0.70,0.55),(0.30,0.51),(-0.77,0.46),(0.97,0.42),(1.10,0.38),(-0.18,0.41),(-0.11,0.40),(0.15,0.33),
 (-0.66,0.26),(-0.46,0.26),(1.59,0.27),(-1.56,0.25),(-1.38,0.20),(0.70,0.12),(-0.02,0.10),(-0.50,0.03),(-0.59,-0.06),(-0.31,-0.06),
 (0.44,0.00),(0.12,0.01),(2.60,0.00),(-0.68,-0.07),(-0.18,-0.09),(0.09,-0.11),(0.12,-0.14),(1.28,-0.14),(0.30,-0.20),(0.55,-0.19),
 (-1.47,-0.24),(-1.32,-0.22),(-0.92,-0.16),(-0.48,-0.32),(-0.40,-0.32),(-0.11,-0.28),(0.33,-0.22),(-1.05,-0.35),(-0.77,-0.35),(0.90,-0.36),
 (-1.05,-0.48),(-0.71,-0.48),(0.24,-0.48),(0.49,-0.48),(1.77,-0.48),(0.26,-0.52),(1.34,-0.54),(-0.77,-0.59),(-0.55,-0.62),(-0.77,-0.66),
 (1.19,-0.65),(-1.35,-0.66),(-0.66,-0.72),(-0.64,-0.77),(-1.32,-0.77),(0.85,-0.77),(-1.05,-0.87),(-0.25,-0.94),(-0.92,-1.07),(-0.71,-1.10),
 (0.30,-1.05),(1.50,-1.10),(0.58,-1.18),(1.10,-1.25),(-0.04,-1.41),(0.64,-1.47),(-0.11,-1.56),(-1.38,-1.56),(-1.39,-1.68),(-0.95,-1.58),
 (-0.25,-1.73),(3.94,-1.63),(-1.23,-1.86),(-0.92,-1.86),(-0.25,-1.94),(-0.77,-2.02),(-0.39,-2.67),(-0.11,-2.88)]

map_vs_slope = [(1.01,2.22),(0.39,1.93),(3.12,1.82),(2.95,1.64),(-0.84,1.63),(-0.10,1.56),(-0.03,1.47),(-1.03,1.47),(1.57,1.51),(-0.66,1.31),
 (-0.44,1.31),(-0.32,1.18),(0.05,1.20),(1.94,1.11),(2.72,1.21),(-1.11,1.04),(-0.59,1.02),(0.88,1.10),(0.56,1.02),(1.08,1.00),
 (1.03,0.89),(0.52,0.92),(-0.82,0.91),(-0.42,0.92),(-0.10,0.89),(-0.54,0.81),(-0.07,0.75),(-1.21,0.68),(0.79,0.68),(-0.36,0.65),
 (-0.29,0.62),(-0.42,0.59),(-0.27,0.56),(0.23,0.53),(0.00,0.53),(1.62,0.56),(4.67,0.62),(-1.11,0.43),(-0.46,0.41),(0.69,0.48),
 (-0.46,0.33),(0.52,0.33),(0.88,0.37),(-0.52,0.24),(0.07,0.24),(1.31,0.22),(-0.82,0.21),(0.46,0.16),(-0.98,0.11),(-0.32,0.10),
 (-0.10,0.12),(0.03,0.08),(2.49,0.10),(-0.86,0.05),(-0.74,-0.01),(-0.42,0.01),(-0.03,0.00),(1.23,0.01),(0.82,-0.01),(-1.05,-0.07),
 (-0.66,-0.11),(-0.32,-0.07),(-0.13,-0.12),(-0.07,-0.10),(-0.52,-0.19),(0.39,-0.17),(1.11,-0.21),(2.29,-0.18),(-0.95,-0.22),(-0.91,-0.29),
 (-0.82,-0.29),(0.17,-0.22),(0.13,-0.31),(-0.59,-0.32),(-0.49,-0.33),(-0.27,-0.30),(-0.34,-0.40),(1.41,-0.35),(-0.59,-0.59),(0.42,-0.57),
 (1.25,-0.78),(0.00,-0.88),(-1.03,-0.88),(-0.88,-0.92),(-0.86,-1.04),(-0.59,-1.04),(-0.10,-1.12),(0.07,-1.16),(1.03,-1.12),(0.62,-1.28),
 (1.41,-1.23),(-0.52,-1.27),(-1.03,-1.34),(-1.03,-1.37),(-0.49,-1.35),(-0.42,-1.42),(0.10,-1.39),(-0.27,-1.53),(0.17,-1.53),(-0.59,-1.59),
 (-1.05,-1.77),(-0.52,-1.77),(-0.39,-1.77),(-0.27,-1.77),(-0.15,-1.74),(0.17,-1.77),(-0.27,-2.03)]

mat_vs_slope = [(2.92,2.59),(1.05,2.29),(0.98,2.05),(1.57,2.05),(-0.42,1.96),(2.70,1.84),(-0.46,1.72),(0.36,1.56),(0.88,1.60),(-0.86,1.43),
 (1.94,1.43),(-0.10,1.36),(0.66,1.36),(-0.49,1.26),(2.46,1.26),(0.39,1.14),(-0.10,1.12),(-0.07,1.06),(-0.62,1.00),(-0.42,1.02),
 (0.05,0.98),(-0.62,0.96),(-1.05,0.87),(-1.05,0.76),(1.11,0.84),(3.12,0.84),(-0.66,0.76),(-0.42,0.75),(-0.34,0.76),(-0.25,0.75),
 (0.13,0.76),(0.00,0.73),(-0.79,0.58),(-0.32,0.61),(-0.15,0.53),(-1.05,0.48),(-0.95,0.44),(-0.62,0.44),(-0.42,0.47),(-0.32,0.42),
 (-0.10,0.40),(0.17,0.39),(-0.29,0.33),(-0.10,0.34),(1.41,0.32),(1.31,0.19),(2.29,0.19),(0.52,0.12),(-0.86,0.06),(-0.54,0.06),
 (-1.05,0.04),(-0.69,0.06),(-0.13,0.06),(-0.72,-0.07),(-0.76,-0.08),(0.52,-0.07),(0.93,-0.06),(1.23,-0.11),(1.21,-0.16),(0.07,-0.14),
 (-1.11,-0.21),(-0.32,-0.21),(0.10,-0.33),(-0.62,-0.33),(-0.54,-0.36),(-0.36,-0.36),(0.74,-0.39),(0.07,-0.44),(-0.84,-0.44),(-0.56,-0.48),
 (-0.44,-0.50),(0.56,-0.51),(0.62,-0.56),(0.88,-0.50),(-0.86,-0.51),(-0.07,-0.56),(-1.21,-0.59),(-1.03,-0.59),(0.82,-0.59),(1.05,-0.59),
 (-0.52,-0.62),(-0.49,-0.67),(-0.07,-0.69),(-0.44,-0.69),(0.39,-0.72),(-0.91,-0.87),(-0.88,-0.94),(-0.10,-0.95),(0.46,-1.00),(-0.62,-0.99),
 (-0.42,-1.08),(-0.32,-1.09),(-0.03,-1.08),(1.01,-1.13),(1.41,-1.09),(-0.95,-1.22),(-0.54,-1.17),(-0.42,-1.13),(-0.36,-1.23),(0.00,-1.22),
 (0.13,-1.18),(-0.52,-1.33),(-0.46,-1.38),(0.05,-1.38),(-0.27,-1.50),(-0.39,-1.60),(0.23,-1.67),(1.60,-1.67),(-0.84,-1.72),(-1.11,-1.88),
 (4.67,-0.27)]

map_vs_mat = [(2.04,2.22),(1.55,1.93),(0.85,1.83),(2.58,1.66),(1.42,1.64),(1.13,1.57),(1.33,1.54),(2.04,1.52),(0.84,1.48),(-1.09,1.45),
 (0.71,1.32),(0.77,1.32),(0.96,1.20),(1.84,1.20),(0.31,1.18),(-0.51,1.11),(1.42,1.12),(-1.87,1.04),(-0.60,1.00),(-0.52,1.00),
 (1.01,1.01),(-0.69,0.93),(-0.06,0.93),(1.03,0.94),(1.05,0.90),(-1.71,0.90),(2.28,0.90),(-1.35,0.79),(-0.49,0.85),(-0.69,0.74),
 (-0.60,0.68),(-0.40,0.67),(-0.35,0.66),(-0.27,0.64),(1.96,0.64),(0.60,0.59),(-1.67,0.54),(-1.58,0.55),(-1.51,0.54),(-1.22,0.52),
 (-1.31,0.48),(1.34,0.48),(1.70,0.49),(-0.22,0.44),(-1.13,0.40),(1.59,0.38),(0.10,0.33),(0.19,0.23),(-0.44,0.25),(-0.38,0.25),
 (-0.42,0.18),(-1.01,0.15),(-1.37,0.11),(-1.27,0.09),(-1.22,0.09),(1.01,0.12),(1.26,0.10),(-0.51,0.07),(-0.57,0.05),(-0.16,0.02),
 (-0.61,-0.01),(-0.06,-0.01),(0.50,0.05),(-1.10,-0.07),(0.48,-0.08),(0.01,-0.13),(0.07,-0.11),(0.35,-0.14),(-0.35,-0.11),(-0.72,-0.17),
 (0.19,-0.19),(-1.17,-0.20),(0.85,-0.20),(1.25,-0.22),(-1.17,-0.30),(-0.89,-0.30),(-0.22,-0.30),(0.43,-0.30),(0.55,-0.30),(-1.17,-0.37),
 (0.06,-0.35),(0.31,-0.35),(0.96,-0.33),(-1.17,-0.43),(-1.17,-0.59),(1.13,-0.58),(-0.10,-0.79),(0.72,-0.88),(0.81,-0.88),(-0.93,-0.93),
 (0.06,-0.96),(-1.01,-1.04),(-1.13,-1.14),(-0.93,-1.14),(-0.13,-1.16),(-1.09,-1.25),(-0.51,-1.29),(-0.63,-1.34),(-0.57,-1.33),(0.01,-1.34),
 (-0.35,-1.40),(0.84,-1.38),(-0.35,-1.43),(0.39,-1.53),(0.43,-1.58),(0.51,-1.72),(0.76,-1.77),(0.72,-2.03)]

# variable labels
VAR_LABELS = {'agb': 'AGB (g m\u207b\u00b2)', 'cov': 'Coverage (%)', 'map': 'MAP (mm)',
              'slope': 'Slope (\u00b0)', 'even': 'Species evenness', 'rich': 'Species richness',
              'mat': 'MAT (\u2103)'}

# panel order
panel_data = [agb_vs_coverage, agb_vs_map, agb_vs_slope, agb_vs_evenness,
              agb_vs_richness, agb_vs_mat, richness_vs_map, richness_vs_slope,
              richness_vs_mat, evenness_vs_map, evenness_vs_slope, evenness_vs_mat,
              coverage_vs_map, coverage_vs_slope, coverage_vs_mat, richness_vs_evenness,
              richness_vs_coverage, evenness_vs_coverage, map_vs_slope, mat_vs_slope,
              map_vs_mat]
x_vars = ['cov', 'map', 'slope', 'even', 'rich', 'mat', 'map', 'slope', 'mat', 'map', 'slope',
          'mat', 'map', 'slope', 'mat', 'even', 'cov', 'cov', 'slope', 'slope', 'mat']
y_vars = ['agb', 'agb', 'agb', 'agb', 'agb', 'agb', 'rich', 'rich', 'rich', 'even', 'even',
          'even', 'cov', 'cov', 'cov', 'rich', 'rich', 'even', 'map', 'mat', 'map']
r2_values = ['0.32', '0.34', '0.07', '0.02', '0.05', '0.00', '0.10', '0.01', '0.25', '0.02', '0.00',
             '0.29', '0.17', '0.00', '0.10', '0.32', '0.15', '0.02', '0.07', '0.06', '0.03']
p_values = ['< 0.001', '< 0.001', '= 0.003', '= 0.14', '= 0.02', '= 0.85', '< 0.001', '= 0.35',
            '< 0.001', '= 0.14', '= 0.61', '< 0.001', '< 0.001', '= 0.52', '< 0.001', '< 0.001',
            '< 0.001', '= 0.09', '= 0.003', '= 0.007', '= 0.07']
fit_slopes = [0.571, 0.587, 0.269, -0.133, 0.22, -0.018, 0.313, 0.086, -0.475, -0.131, -0.048,
              -0.553, 0.41, 0.0625, -0.312, 0.55, 0.396, 0.156, 0.272, 0.245, 0.165]
fit_intercepts = [-0.01, 0.0, -0.01, 0.0, -0.01, 0.0, 0.0, 0.0, -0.02, -0.01, -0.01,
                  0.02, -0.01, 0.0, -0.01, 0.0, -0.03, 0.0, 0.0, 0.0, 0.01]
significant = [True, True, True, False, True, False, True, False, True, False, False,
               True, True, False, True, True, True, False, True, True, False]

# ---------------- LAYOUT ----------------
W, H = 3169, 4768
fig = plt.figure(figsize=(W / 300, H / 300), dpi=300)
fig.patch.set_facecolor('white')

row_tb = [(3, 662), (800, 1452), (1600, 2255), (2396, 3053), (3192, 3849), (3993, 4661)]
col_lr = [
    [(130, 766), (915, 1550), (1722, 2358), (2515, 3147)],
    [(130, 765), (918, 1550), (1703, 2357), (2490, 3147)],
    [(108, 765), (895, 1550), (1700, 2357), (2490, 3147)],
    [(95, 765), (880, 1550), (1685, 2357), (2490, 3147)],
    [(105, 765), (895, 1555), (1700, 2357), (2490, 3147)],
    [(108, 776)],
]
xlims = [(-1.79, 4.21), (-2.24, 2.43), (-1.54, 4.98), (-3.11, 2.23),
         (-2.24, 3.56), (-2.10, 2.78), (-2.23, 2.41), (-1.47, 4.99),
         (-2.10, 2.80), (-2.25, 2.43), (-1.47, 4.99), (-2.08, 2.81),
         (-2.24, 2.45), (-1.49, 4.96), (-2.14, 2.82), (-3.17, 2.26),
         (-1.77, 4.23), (-1.81, 4.25), (-1.47, 4.99), (-1.47, 4.99),
         (-2.08, 2.77)]
ylims = [(-2.19, 4.95)] * 4 + [(-2.15, 4.95)] * 2 + [(-2.31, 4.29)] * 2 + \
        [(-2.32, 4.26), (-3.12, 2.44), (-3.12, 2.44), (-3.12, 2.44)] + \
        [(-1.85, 4.21)] * 3 + [(-2.28, 3.55), (-2.26, 3.53), (-3.14, 2.56),
                               (-2.31, 3.97), (-2.15, 3.99), (-2.32, 3.97)]
xt_a = [-2, -1, 0, 1, 2]
xt_b = [0, 2, 4]
xt_c = [-3, -2, -1, 0, 1, 2]
xt_d = [-2, 0, 2]
xticks = [xt_b, xt_a, xt_b, xt_c, xt_d, xt_a, xt_a, xt_b, xt_a, xt_a, xt_b, xt_a,
          xt_a, xt_b, xt_a, xt_c, xt_b, xt_b, xt_b, xt_b, xt_a]
yt1 = [-2, 0, 2, 4]
yt2 = [-3, -2, -1, 0, 1, 2]
yt3 = [0, 2, 4]
yt4 = [-2, 0, 2]
yticks = [yt1] * 9 + [yt2] * 3 + [yt3] * 3 + [yt4, yt4, yt2, yt4, yt4, yt4]
ann_pos = [(0.126, 0.864), (0.083, 0.864), (0.099, 0.864), (0.103, 0.864),
           (0.134, 0.862), (0.079, 0.862), (0.125, 0.916), (0.137, 0.916),
           (0.162, 0.939), (0.111, 0.943), (0.266, 0.939), (0.396, 0.939),
           (0.181, 0.877), (0.131, 0.883), (0.149, 0.883), (0.137, 0.873),
           (0.167, 0.848), (0.117, 0.952), (0.129, 0.848), (0.137, 0.848),
           (0.161, 0.917)]

FONT = ['Liberation Sans', 'DejaVu Sans']

for i, pts in enumerate(panel_data):
    r, c = divmod(i, 4)
    top, bot = row_tb[r]
    left, right = col_lr[r][c]
    ax = fig.add_axes([left / W, 1 - bot / H, (right - left) / W, (bot - top) / H])
    xs = [p[0] for p in pts]
    ys = [p[1] for p in pts]
    ax.scatter(xs, ys, s=14, c='black', linewidths=0, zorder=3)
    x0, x1 = min(xs), max(xs)
    b, a = fit_slopes[i], fit_intercepts[i]
    ls = '-' if significant[i] else (0, (4, 3))
    ax.plot([x0, x1], [a + b * x0, a + b * x1], color='black', lw=1.15, ls=ls, zorder=4,
            solid_capstyle='butt')
    ax.set_xlim(*xlims[i])
    ax.set_ylim(*ylims[i])
    ax.set_xticks(xticks[i])
    ax.set_yticks(yticks[i])
    for s in ax.spines.values():
        s.set_linewidth(1.1)
    ax.tick_params(direction='out', length=2.0, width=1.0, color='black')
    ax.tick_params(axis='y', pad=0.8)
    ax.tick_params(axis='x', pad=1.6)
    for lab in ax.get_xticklabels() + ax.get_yticklabels():
        lab.set_fontfamily(FONT)
        lab.set_fontweight('bold')
        lab.set_fontsize(10)
    wpx = right - left
    hpx = bot - top
    ax.set_xlabel(VAR_LABELS[x_vars[i]], family=FONT, weight='bold', fontsize=11.5)
    ax.set_ylabel(VAR_LABELS[y_vars[i]], family=FONT, weight='bold', fontsize=11.5)
    ax.xaxis.set_label_coords(0.5, -70 / hpx)
    ax.yaxis.label.set_verticalalignment('center')
    center_abs = max(left - 84, 24)
    ax.yaxis.set_label_coords((center_abs - left) / wpx, 0.5)
    txt = '$R^2$= ' + r2_values[i] + ', $P$ ' + p_values[i]
    ax.text(ann_pos[i][0], ann_pos[i][1], txt, transform=ax.transAxes, ha='left', va='center',
            fontsize=9, fontweight='bold', family=FONT, zorder=5)

fig.savefig('out.png', dpi=300, facecolor='white')
